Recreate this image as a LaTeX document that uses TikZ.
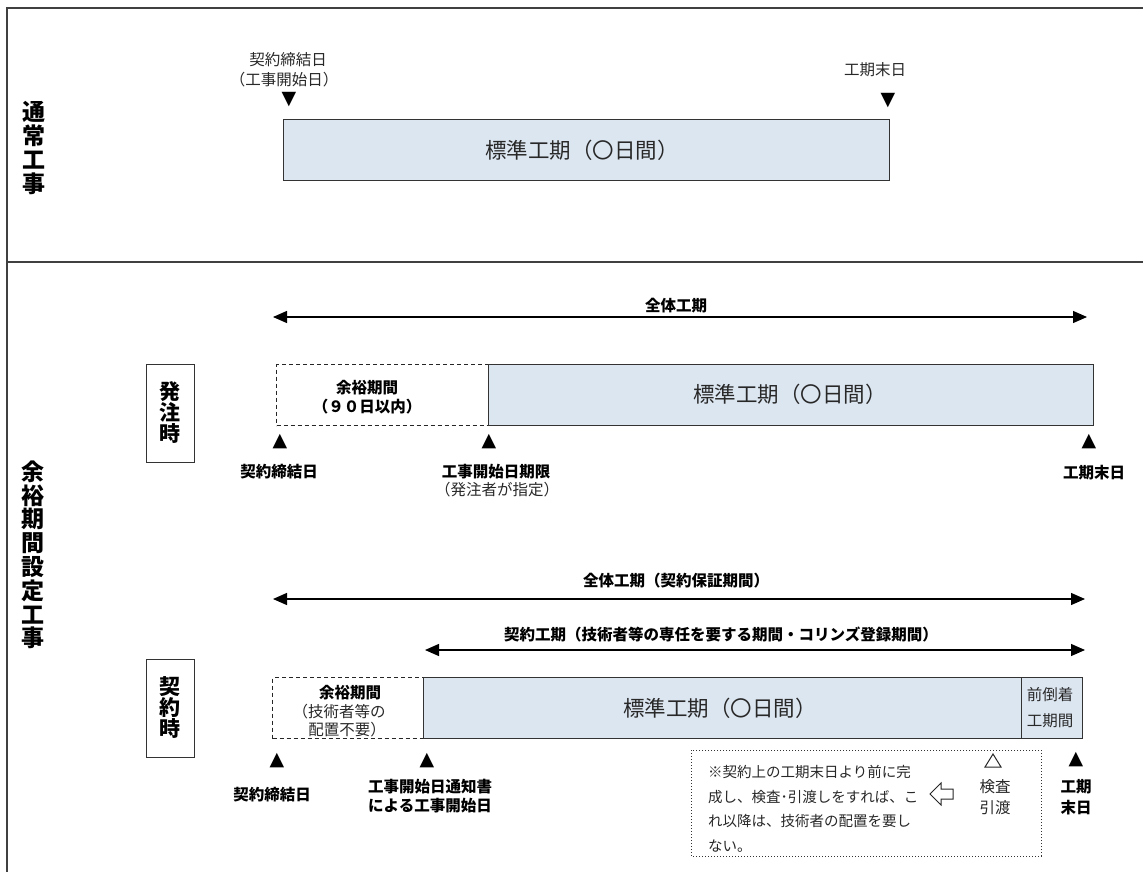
\documentclass[tikz,border=0pt]{standalone}
\usepackage{fontspec}
\setmainfont{Noto Sans CJK JP}
\newfontfamily\sym{DejaVu Sans}
\usetikzlibrary{arrows.meta}
\definecolor{bluefill}{RGB}{220,230,241}
\definecolor{txtgray}{RGB}{40,40,40}
\tikzset{
  lbl/.style={inner sep=0pt, text=txtgray, font=\fontsize{15.5}{19}\selectfont},
  blbl/.style={inner sep=0pt, text=black, font=\bfseries\fontsize{15.5}{19}\selectfont},
  biglbl/.style={inner sep=0pt, text=txtgray, font=\fontsize{21.5}{24}\selectfont},
  vlbl/.style={inner sep=0pt, align=center, font=\bfseries\fontsize{23}{23.8}\selectfont},
  bluebox/.style={draw=black!80, line width=1pt, fill=bluefill},
  slackbox/.style={draw=black!85, line width=1pt, dashed, dash pattern=on 4pt off 3pt},
  phasebox/.style={draw=black!80, line width=1pt, minimum width=48pt, minimum height=98pt, inner sep=0pt, align=center, font=\bfseries\fontsize{21}{21}\selectfont},
  tickmark/.style={inner sep=0pt, font=\sym\fontsize{19}{19}\selectfont},
  span/.style={line width=1.3pt, {Triangle[length=14pt,width=12pt]}-{Triangle[length=14pt,width=12pt]}},
  frame/.style={line width=1.6pt, draw=black!75}
}
\begin{document}
\begin{tikzpicture}[x=1pt,y=-1pt]
\useasboundingbox (0,0) rectangle (1143,872);
% frame
\draw[frame] (7,872) -- (7,8) -- (1143,8);
\draw[frame] (7,262) -- (1143,262);

% ===== 通常工事 =====
\node[vlbl] (t1) at (34,148) {通\\常\\工\\事};
\node[bluebox, minimum width=606pt, minimum height=61pt, inner sep=0pt, anchor=north west] (std1) at (283,119) {};
\node[biglbl] (std1t) at (582,150) {標準工期（〇日間）};
\node[lbl] (s1a) at (288,60) {契約締結日};
\node[lbl] (s1b) at (284,80) {（工事開始日）};
\node[tickmark] (s1m) at (289,100) {▼};
\node[lbl] (e1a) at (875,70) {工期末日};
\node[tickmark] (e1m) at (888,101) {▼};

% ===== 余裕期間設定工事 =====
\node[vlbl] (t2) at (33,555) {余\\裕\\期\\間\\設\\定\\工\\事};

% --- 発注時 ---
\node[phasebox] (p1) at (170,413) {発\\注\\時};
\coordinate (a1l) at (273,317);
\coordinate (a1r) at (1087,317);
\draw[span] (a1l) -- (a1r);
\node[blbl] (a1t) at (676,306) {全体工期};
\node[slackbox, minimum width=212pt, minimum height=61pt, inner sep=0pt, anchor=north west] (sl1) at (276,364) {};
\node[bluebox, minimum width=605pt, minimum height=61pt, inner sep=0pt, anchor=north west] (std2) at (488,364) {};
\node[biglbl] (std2t) at (790,394) {標準工期（〇日間）};
\node[blbl] (sl1a) at (367,388) {余裕期間};
\node[blbl] (sl1b) at (367,407) {（９０日以内）};
\node[tickmark] (m1) at (280,442) {▲};
\node[blbl] (m1t) at (279,472) {契約締結日};
\node[tickmark] (m2) at (489,442) {▲};
\node[blbl] (m2t) at (496,472) {工事開始日期限};
\node[lbl] (m2s) at (497,490) {（発注者が指定）};
\node[tickmark] (m3) at (1089,442) {▲};
\node[blbl] (m3t) at (1094,473) {工期末日};

% --- 契約時 ---
\node[phasebox] (p2) at (170,708) {契\\約\\時};
\coordinate (b1l) at (273,599);
\coordinate (b1r) at (1085,599);
\draw[span] (b1l) -- (b1r);
\node[blbl] (b1t) at (676,581) {全体工期（契約保証期間）};
\coordinate (b2l) at (425,650);
\coordinate (b2r) at (1085,650);
\draw[span] (b2l) -- (b2r);
\node[blbl] (b2t) at (721,634) {契約工期（技術者等の専任を要する期間・コリンズ登録期間）};
\node[slackbox, minimum width=151pt, minimum height=61pt, inner sep=0pt, anchor=north west] (sl2) at (272,677) {};
\node[bluebox, minimum width=659pt, minimum height=61pt, inner sep=0pt, anchor=north west] (std3) at (423,677) {};
\draw[draw=black!80, line width=1pt] (1021,677) -- (1021,738);
\node[biglbl] (std3t) at (720,708) {標準工期（〇日間）};
\node[lbl] (fw1) at (1050,695) {前倒着};
\node[lbl] (fw2) at (1050,721) {工期間};
\node[blbl] (sl2a) at (350,693) {余裕期間};
\node[lbl] (sl2b) at (339,712) {（技術者等の};
\node[lbl] (sl2c) at (347,730) {配置不要）};
\node[tickmark] (n1) at (277,761) {▲};
\node[blbl] (n1t) at (272,795) {契約締結日};
\node[tickmark] (n2) at (427,761) {▲};
\node[blbl] (n2t) at (430,787) {工事開始日通知書};
\node[blbl] (n2s) at (430,806) {による工事開始日};
\node[tickmark] (n3) at (1076,760) {▲};
\node[blbl] (n3t) at (1076,787) {工期};
\node[blbl] (n3s) at (1076,808) {末日};

% note box
\draw[black!80, line width=1pt, dotted] (691,750) rectangle (1041,856);
\node[lbl, anchor=west, align=left, font=\fontsize{14.5}{24.5}\selectfont] (note) at (708,809) {※契約上の工期末日より前に完\\成し、検査･引渡しをすれば、こ\\れ以降は、技術者の配置を要し\\ない。};
\draw[black!85, line width=1pt] (930,794) -- (941,783) -- (941,789) -- (953,789) -- (953,799) -- (941,799) -- (941,805) -- cycle;
\draw[black!85, line width=1pt] (993,754) -- (1001,767) -- (985,767) -- cycle;
\node[lbl] (k1) at (995,787) {検査};
\node[lbl] (k2) at (995,808) {引渡};
\end{tikzpicture}
\end{document}
